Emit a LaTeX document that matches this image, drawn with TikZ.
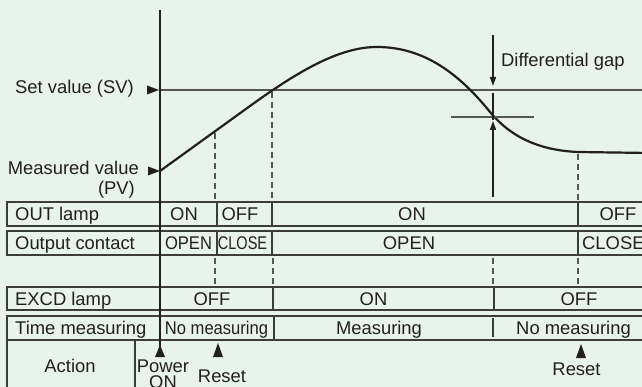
\documentclass[tikz,border=0pt]{standalone}
\usepackage{fontspec}
\usepackage{graphicx}
\setmainfont{Liberation Sans}
\usetikzlibrary{arrows.meta}
\definecolor{bg}{RGB}{231,243,235}
\definecolor{ink}{RGB}{35,31,32}
\definecolor{gline}{RGB}{85,85,85}
\definecolor{tline}{RGB}{60,60,60}
\begin{document}
\begin{tikzpicture}[x=1pt,y=-1pt,
  every node/.style={inner sep=0pt, text=ink, text height=13.2pt, text depth=0pt,
    font=\fontsize{18.4}{20}\selectfont},
  tbl/.style={draw=tline, line width=1.5pt},
  vdashed/.style={draw=gline, line width=1.3pt, dash pattern=on 6pt off 4pt},
  curve/.style={draw=ink, line width=2.2pt, line cap=round},
  thin/.style={draw=gline, line width=1.3pt},
  gaparrow/.style={draw=ink, line width=1.5pt, -{Triangle[length=9pt,width=6pt]}},
  marker/.style={fill=ink, draw=none}]
\fill[bg] (0,0) rectangle (642,387);
\clip (0,0) rectangle (642,387);

% table rows
\draw[tbl] (7,202) rectangle (660,226);
\draw[tbl] (7,231) rectangle (660,255);
\draw[tbl] (7,287) rectangle (660,310);
\draw[tbl] (7,316) rectangle (660,340);
\draw[tbl] (7,340) rectangle (660,400);
% dividers
\foreach \x in {217,272,578}{
  \draw[tbl] (\x,202) -- (\x,226);
  \draw[tbl] (\x,231) -- (\x,255);
}
\draw[tbl] (273,287) -- (273,310);
\draw[tbl] (494,287) -- (494,310);
\draw[tbl] (274,316) -- (274,340);
\draw[tbl] (493,318) -- (493,337);
\draw[tbl] (135,340) -- (135,390);

% dashed guides
\draw[vdashed] (215,133) -- (215,200);
\draw[vdashed] (215,258) -- (215,284);
\draw[vdashed] (272,92) -- (272,200);
\draw[vdashed] (273,258) -- (273,284);
\draw[vdashed] (493,258) -- (493,284);
\draw[vdashed] (578,154) -- (578,200);
\draw[vdashed] (578,258) -- (578,284);

% set value line
\draw[thin] (160,90) -- (650,90);

% axis
\draw[draw=ink, line width=2pt] (160,10) -- (160,352);

% curve
\draw[curve] (160,171) -- (250,106) .. controls (300,70) and (340,47) .. (377,47)
  .. controls (425,47) and (460,75) .. (490,112)
  .. controls (505,130) and (530,150) .. (578,152) -- (650,153);

% differential gap
\coordinate (gtop) at (493,35);
\coordinate (gtip) at (493,86);
\coordinate (gbot) at (493,197);
\coordinate (glow) at (493,121);
\draw[gaparrow] (gtop) -- (gtip);
\draw[gaparrow] (gbot) -- (glow);
\draw[thin] (451,117) -- (534,117);
\draw[draw=ink, line width=1.5pt] (493,93) -- (493,120);
\node[anchor=west] (dg) at (501,60) {Differential gap};

% markers
\fill[marker] (147,85.5) -- (147,94.5) -- (159,90) -- cycle;
\fill[marker] (148,166.5) -- (148,175.5) -- (160,171) -- cycle;
\node[anchor=east] (sv) at (134,87) {Set value (SV)};
\node[anchor=east] (pv1) at (139,168) {Measured value};
\node[anchor=east] (pv2) at (135,188) {(PV)};

% row labels
\node[anchor=west] (l1) at (15,214) {OUT lamp};
\node[anchor=west] (l2) at (15,243) {Output contact};
\node[anchor=west] (l3) at (15,299) {EXCD lamp};
\node[anchor=west] (l4) at (15,328) {Time measuring};

% row 1
\node (r1a) at (184,214) {ON};
\node (r1b) at (240,214) {OFF};
\node (r1c) at (412,214) {ON};
\node (r1d) at (618,214) {OFF};
% row 2
\node (r2a) at (188.5,243) {\scalebox{0.9}[1]{OPEN}};
\node (r2b) at (242.5,243) {\scalebox{0.79}[1]{CLOSE}};
\node (r2c) at (409,243) {OPEN};
\node[anchor=west] (r2d) at (582,243) {CLOSE};
% row 3
\node (r3a) at (212,299) {OFF};
\node (r3b) at (373.5,299) {ON};
\node (r3c) at (579,299) {OFF};
% row 4
\node (r4a) at (216.5,328) {\scalebox{0.9}[1]{No measuring}};
\node (r4b) at (379,328) {Measuring};
\node (r4c) at (573.5,328) {No measuring};

% action row
\node (act) at (70,366) {Action};
\fill[marker] (160,345) -- (155,357) -- (165,357) -- cycle;
\node (pw1) at (163,366) {Power};
\node (pw2) at (163,382) {ON};
\fill[marker] (218,343) -- (213,357) -- (223,357) -- cycle;
\node (rs1) at (222,376) {Reset};
\fill[marker] (581,344) -- (576,358) -- (586,358) -- cycle;
\node (rs2) at (576.5,368.5) {Reset};
\end{tikzpicture}
\end{document}
